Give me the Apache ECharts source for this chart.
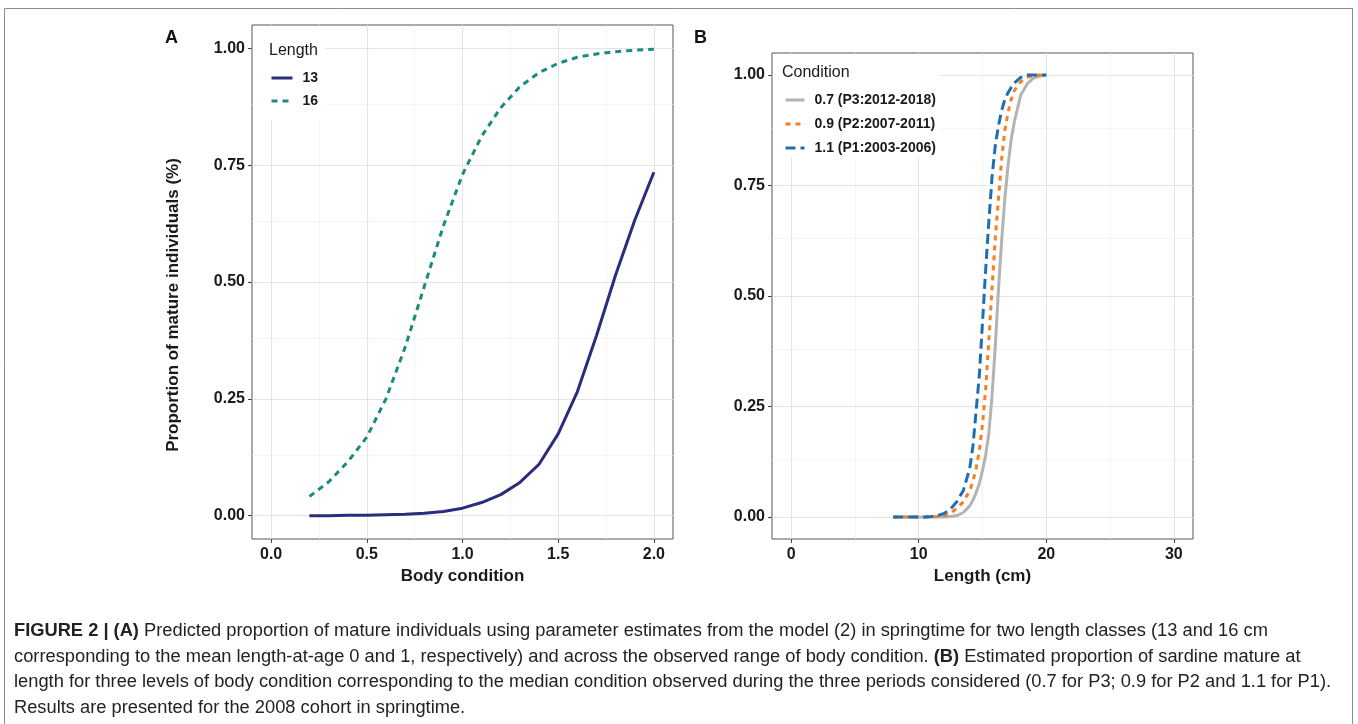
<!DOCTYPE html>
<html>
<head>
<meta charset="utf-8">
<title>Figure 2</title>
<script src="https://cdn.jsdelivr.net/npm/echarts@6/dist/echarts.min.js"></script>
<style>
  html, body { margin: 0; padding: 0; background: #fff; }
  #main { width: 1358px; height: 724px; }
</style>
</head>
<body>
<div id="main"></div>
<script>
// panel A - proportion mature vs body condition, two length classes
var bodyCondition = [0.2, 0.3, 0.4, 0.5, 0.6, 0.7, 0.8, 0.9, 1.0, 1.1, 1.2, 1.3, 1.4, 1.5, 1.6, 1.7, 1.8, 1.9, 2.0];
var length13 = [0.000, 0.000, 0.001, 0.001, 0.002, 0.003, 0.005, 0.009, 0.016, 0.028, 0.045, 0.071, 0.110, 0.175, 0.265, 0.385, 0.515, 0.632, 0.735];
var length16 = [0.041, 0.072, 0.115, 0.168, 0.250, 0.360, 0.490, 0.620, 0.730, 0.812, 0.873, 0.918, 0.948, 0.968, 0.981, 0.988, 0.993, 0.996, 0.998];

// panel B - proportion mature vs length, three condition levels
var lengthCm = [8, 9, 10, 10.5, 11, 11.5, 12, 12.5, 13, 13.5, 14, 14.25, 14.5, 14.75, 15, 15.25, 15.5, 15.75, 16, 16.25, 16.5, 16.75, 17, 17.25, 17.5, 18, 18.5, 19, 19.5, 20];
var cond07 = [0, 0, 0, 0, 0, 0, 0, 0.001, 0.003, 0.010, 0.025, 0.038, 0.055, 0.075, 0.105, 0.140, 0.190, 0.275, 0.385, 0.515, 0.625, 0.720, 0.795, 0.855, 0.895, 0.955, 0.980, 0.993, 0.998, 1.000];
var cond09 = [0, 0, 0, 0, 0, 0.001, 0.003, 0.008, 0.020, 0.034, 0.060, 0.080, 0.110, 0.150, 0.210, 0.290, 0.400, 0.520, 0.630, 0.720, 0.810, 0.875, 0.915, 0.945, 0.965, 0.985, 0.995, 0.999, 1.000, 1.000];
var cond11 = [0, 0, 0, 0, 0.001, 0.003, 0.008, 0.018, 0.035, 0.060, 0.110, 0.160, 0.240, 0.320, 0.440, 0.560, 0.670, 0.770, 0.840, 0.885, 0.920, 0.945, 0.960, 0.972, 0.982, 0.995, 1.000, 1.000, 1.000, 1.000];

// tick labels
var xTicksA = [0, 0.5, 1, 1.5, 2];
var xMinorA = [0.25, 0.75, 1.25, 1.75];
var xTicksB = [0, 10, 20, 30];
var xMinorB = [5, 15, 25];
var yTicks = [0, 0.25, 0.5, 0.75, 1];
var yMinor = [0.125, 0.375, 0.625, 0.875];

var FONT = '"Liberation Sans", Arial, sans-serif';

function pairs(xs, ys) {
  return xs.map(function (x, i) { return [x, ys[i]]; });
}

// ggplot style grid lines (major + minor) spanning the whole panel
function gridMarks(xMajor, xMinor) {
  var major = { color: '#E4E4E4', width: 1.1, type: 'solid' };
  var minor = { color: '#F1F1F1', width: 0.8, type: 'solid' };
  var d = [];
  xMinor.forEach(function (v) { d.push({ xAxis: v, lineStyle: minor }); });
  yMinor.forEach(function (v) { d.push({ yAxis: v, lineStyle: minor }); });
  xMajor.forEach(function (v) { d.push({ xAxis: v, lineStyle: major }); });
  yTicks.forEach(function (v) { d.push({ yAxis: v, lineStyle: major }); });
  return {
    silent: true, symbol: ['none', 'none'], label: { show: false },
    emphasis: { disabled: true }, animation: false, z: 1, data: d
  };
}

var tickLabel = { fontFamily: FONT, fontSize: 16, fontWeight: 'bold', color: '#1a1a1a' };
var axisTitle = { fontFamily: FONT, fontSize: 17, fontWeight: 'bold', color: '#1a1a1a' };

function xAxis(idx, min, max, ticks, fmt, name) {
  return {
    gridIndex: idx, type: 'value', min: min, max: max,
    name: name, nameLocation: 'middle', nameGap: 27, nameTextStyle: axisTitle,
    axisLine: { show: false, onZero: false },
    axisTick: { show: true, length: 4, customValues: ticks, lineStyle: { color: '#444' } },
    axisLabel: Object.assign({ customValues: ticks, formatter: fmt, margin: 8 }, tickLabel),
    splitLine: { show: false }
  };
}
function yAxis(idx, name) {
  return {
    gridIndex: idx, type: 'value', min: -0.05, max: 1.05,
    name: name, nameLocation: 'middle', nameGap: 70,
    nameTextStyle: Object.assign({ padding: [0, 46, 0, 0] }, axisTitle),
    axisLine: { show: false, onZero: false },
    axisTick: { show: true, length: 4, customValues: yTicks, lineStyle: { color: '#444' } },
    axisLabel: Object.assign({ customValues: yTicks, formatter: function (v) { return v.toFixed(2); }, margin: 7 }, tickLabel),
    splitLine: { show: false }
  };
}

function line(name, xi, xs, ys, color, dash) {
  return {
    name: name, type: 'line', xAxisIndex: xi, yAxisIndex: xi,
    data: pairs(xs, ys), symbol: 'none', smooth: false, z: 3,
    lineStyle: { color: color, width: 3, type: dash || 'solid' },
    itemStyle: { color: color }
  };
}

var legendText = { fontFamily: FONT, fontSize: 14, fontWeight: 'bold', color: '#1a1a1a', padding: [0, 0, 0, 5] };

var s13 = line('13', 0, bodyCondition, length13, '#2B2C7C');
s13.markLine = gridMarks(xTicksA, xMinorA);
var s16 = line('16', 0, bodyCondition, length16, '#1B8B80', [6, 5]);
var sP3 = line('0.7 (P3:2012-2018)', 1, lengthCm, cond07, '#B3B3B3');
sP3.markLine = gridMarks(xTicksB, xMinorB);
var sP2 = line('0.9 (P2:2007-2011)', 1, lengthCm, cond09, '#F77F1F', [5, 5]);
var sP1 = line('1.1 (P1:2003-2006)', 1, lengthCm, cond11, '#1F6DB2', [10, 5]);

var captionStyle = { fontFamily: FONT, fontSize: 18.3, fill: '#222', verticalAlign: 'middle',
  rich: { b: { fontFamily: FONT, fontSize: 18.3, fontWeight: 'bold', fill: '#222' } } };
var captionLines = [
  '{b|FIGURE 2 | (A)} Predicted proportion of mature individuals using parameter estimates from the model (2) in springtime for two length classes (13 and 16 cm',
  'corresponding to the mean length-at-age 0 and 1, respectively) and across the observed range of body condition. {b|(B)} Estimated proportion of sardine mature at',
  'length for three levels of body condition corresponding to the median condition observed during the three periods considered (0.7 for P3; 0.9 for P2 and 1.1 for P1).',
  'Results are presented for the 2008 cohort in springtime.'
];

var graphics = [
  { type: 'rect', shape: { x: 4.5, y: 8.5, width: 1348, height: 740 }, style: { fill: 'none', stroke: '#8c8c8c', lineWidth: 1 }, z: 100 },
  { type: 'text', x: 165, y: 38, style: { text: 'A', fontFamily: FONT, fontSize: 18, fontWeight: 'bold', fill: '#111', verticalAlign: 'middle' }, z: 100 },
  { type: 'text', x: 694, y: 38, style: { text: 'B', fontFamily: FONT, fontSize: 18, fontWeight: 'bold', fill: '#111', verticalAlign: 'middle' }, z: 100 },
  { type: 'text', x: 269, y: 51, style: { text: 'Length', fontFamily: FONT, fontSize: 16, fill: '#1a1a1a', verticalAlign: 'middle' }, z: 100 },
  { type: 'text', x: 782, y: 73, style: { text: 'Condition', fontFamily: FONT, fontSize: 16, fill: '#1a1a1a', verticalAlign: 'middle' }, z: 100 }
];
captionLines.forEach(function (t, i) {
  graphics.push({ type: 'text', x: 14, y: 631 + i * 25.7, style: Object.assign({ text: t }, captionStyle), z: 100 });
});

var chart = echarts.init(document.getElementById('main'));
chart.setOption({
  animation: false,
  backgroundColor: '#fff',
  grid: [
    { left: 252, top: 25, width: 421, height: 514, show: true, borderColor: '#555', borderWidth: 1, backgroundColor: 'transparent' },
    { left: 772, top: 53, width: 421, height: 486, show: true, borderColor: '#555', borderWidth: 1, backgroundColor: 'transparent' }
  ],
  xAxis: [
    xAxis(0, -0.1, 2.1, xTicksA, function (v) { return v.toFixed(1); }, 'Body condition'),
    xAxis(1, -1.5, 31.5, xTicksB, function (v) { return String(v); }, 'Length (cm)')
  ],
  yAxis: [
    yAxis(0, 'Proportion of mature individuals (%)'),
    yAxis(1, '')
  ],
  legend: [
    { data: ['13', '16'], orient: 'vertical', left: 253, top: 26, padding: [45, 7, 12, 17],
      itemWidth: 21, itemHeight: 14, itemGap: 9, backgroundColor: '#fff', selectedMode: false,
      itemStyle: { opacity: 0, borderWidth: 0 }, lineStyle: { width: 3 }, textStyle: legendText },
    { data: ['0.7 (P3:2012-2018)', '0.9 (P2:2007-2011)', '1.1 (P1:2003-2006)'], orient: 'vertical', left: 773, top: 54,
      padding: [39, 4, 2, 11], itemWidth: 19, itemHeight: 14, itemGap: 10, backgroundColor: '#fff', selectedMode: false,
      itemStyle: { opacity: 0, borderWidth: 0 }, lineStyle: { width: 3 }, textStyle: legendText }
  ],
  graphic: graphics,
  series: [s13, s16, sP3, sP2, sP1]
});
</script>
</body>
</html>
